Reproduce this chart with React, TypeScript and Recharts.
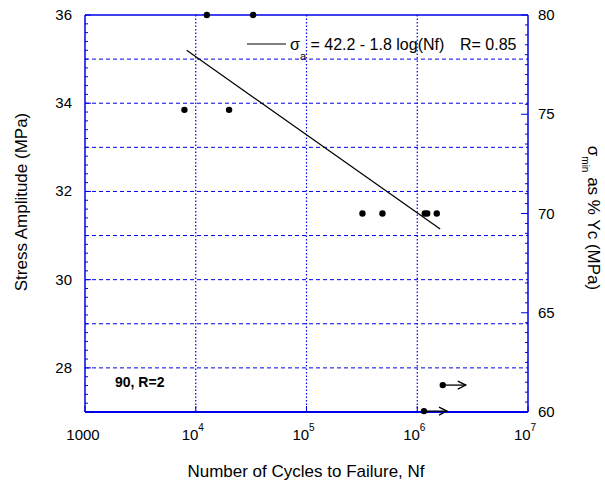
import React from 'react'
import { ScatterChart, Scatter, XAxis, YAxis, ReferenceLine, Customized } from 'recharts'

// ── Data ───────────────────────────────────────────────────────

const cycles = [1.26e4, 3.3e4, 7.9e3, 2.0e4, 3.2e5, 4.85e5, 1.17e6, 1.23e6, 1.5e6]
const amplitude = [36, 36, 33.85, 33.85, 31.5, 31.5, 31.5, 31.5, 31.5]
// same points read on the right scale (σmin as % Yc)
const minPercent = [80, 80, 75.2, 75.2, 70, 70, 70, 70, 70]

// run-outs (no failure), drawn with an arrow
const runoutCycles = [1.7e6, 1.15e6]
const runoutAmplitude = [27.61, 27.02]

// fitted line  σa = 42.2 - 1.8 log(Nf)
const fitCycles = [8.28e3, 1.61e6]
const fitAmplitude = [35.2, 31.15]

const xTicks = [1e3, 1e4, 1e5, 1e6, 1e7]
const xGrid = [1e4, 1e5, 1e6]
const leftLabels = [28, 30, 32, 34, 36]
const rightLabels = [60, 65, 70, 75, 80]
const yGrid = [28, 29, 30, 31, 32, 33, 34, 35]

const leftTicks = Array.from({ length: 46 }, (_, i) => Math.round((27 + i * 0.2) * 10) / 10)
const rightTicks = Array.from({ length: 41 }, (_, i) => 60 + i * 0.5)

const points = cycles.map((n, i) => ({ n, s: amplitude[i] }))
const pointsRight = cycles.map((n, i) => ({ n, p: minPercent[i] }))
const runouts = runoutCycles.map((n, i) => ({ n, s: runoutAmplitude[i] }))
const fit = fitCycles.map((n, i) => ({ n, s: fitAmplitude[i] }))

// ── Styles ─────────────────────────────────────────────────────

const BLUE = '#0000e6'
const FONT = '"Liberation Sans", Arial, sans-serif'

// ── Ticks ──────────────────────────────────────────────────────

function XTick({ x, y, payload }: any) {
  const v = payload.value as number
  const exp = Math.round(Math.log10(v))
  return (
    <g>
      <line x1={x} y1={y} x2={x} y2={y - 6} stroke={BLUE} />
      {v === 1000 ? (
        <text x={x - 2} y={y + 28} textAnchor="middle" fontSize={15} fill="#000">1000</text>
      ) : (
        <text x={x - 3} y={y + 28} textAnchor="middle" fontSize={15} fill="#000">
          10<tspan fontSize={10} dy={-9}>{exp}</tspan>
        </text>
      )}
    </g>
  )
}

function LeftTick({ x, y, payload }: any) {
  const v = payload.value as number
  const major = leftLabels.includes(v)
  return (
    <g>
      <line x1={x} y1={y} x2={x + (major ? 6 : 3)} y2={y} stroke={BLUE} />
      {major && (
        <text x={x - 13} y={y} dy={5} textAnchor="end" fontSize={15} fill="#000">{v}</text>
      )}
    </g>
  )
}

function RightTick({ x, y, payload }: any) {
  const v = payload.value as number
  const major = rightLabels.includes(v)
  return (
    <g>
      <line x1={x} y1={y} x2={x - (major ? 7 : 3)} y2={y} stroke={BLUE} />
      {major && (
        <text x={x + 10} y={y} dy={5} textAnchor="start" fontSize={15} fill="#000">{v}</text>
      )}
    </g>
  )
}

// ── Marks ──────────────────────────────────────────────────────

function Dot({ cx, cy }: any) {
  return <circle cx={cx} cy={cy} r={3.2} fill="#000" />
}

function RunoutDot({ cx, cy }: any) {
  return (
    <g>
      <circle cx={cx} cy={cy} r={3.2} fill="#000" />
      <line x1={cx} y1={cy} x2={cx + 23} y2={cy} stroke="#000" strokeWidth={1.3} />
      <polyline
        points={`${cx + 15},${cy - 4} ${cx + 23},${cy} ${cx + 15},${cy + 4}`}
        fill="none"
        stroke="#000"
        strokeWidth={1.3}
      />
    </g>
  )
}

function NoDot() {
  return <g />
}

// ── Titles & legend ────────────────────────────────────────────

function Overlay() {
  return (
    <g fontFamily={FONT} fill="#000">
      <text transform="translate(27,202) rotate(-90)" textAnchor="middle" fontSize={17}>
        Stress Amplitude (MPa)
      </text>
      <text transform="translate(588,218) rotate(90)" textAnchor="middle" fontSize={17}>
        σ<tspan fontSize={10} dy={6}>min</tspan>
        <tspan dy={-6}> as % Yc (MPa)</tspan>
      </text>
      <text x={306} y={477} textAnchor="middle" fontSize={17}>
        Number of Cycles to Failure, Nf
      </text>

      <line x1={247} y1={44} x2={286} y2={44} stroke="#000" strokeWidth={1} />
      <text x={290} y={50} fontSize={16}>
        σ<tspan fontSize={11} dy={10}>a</tspan>
        <tspan dy={-10}> = 42.2 - 1.8 log(Nf)</tspan>
      </text>
      <text x={460} y={50} fontSize={16}>R= 0.85</text>

      <text x={115} y={387} fontSize={14} fontWeight="bold">90, R=2</text>
    </g>
  )
}

// ── Chart ──────────────────────────────────────────────────────

export default function App() {
  return (
    <div style={{ position: 'absolute', left: 0, top: 0, background: '#fff' }}>
      <ScatterChart
        width={605}
        height={486}
        margin={{ top: 15, right: 27, bottom: 34, left: 25 }}
        style={{ fontFamily: FONT }}
      >
        <XAxis
          dataKey="n"
          type="number"
          scale="log"
          domain={[1e3, 1e7]}
          ticks={xTicks}
          interval={0}
          height={40}
          tickSize={0}
          tickMargin={0}
          tickLine={false}
          tick={<XTick />}
          axisLine={{ stroke: BLUE, strokeWidth: 2 }}
        />
        <YAxis
          yAxisId="left"
          dataKey="s"
          type="number"
          domain={[27, 36]}
          ticks={leftTicks}
          interval={0}
          width={60}
          tickSize={0}
          tickMargin={0}
          tickLine={false}
          tick={<LeftTick />}
          axisLine={{ stroke: BLUE, strokeWidth: 1.5 }}
        />
        <YAxis
          yAxisId="right"
          orientation="right"
          dataKey="p"
          type="number"
          domain={[60, 80]}
          allowDataOverflow
          ticks={rightTicks}
          interval={0}
          width={50}
          tickSize={0}
          tickMargin={0}
          tickLine={false}
          tick={<RightTick />}
          axisLine={{ stroke: BLUE, strokeWidth: 1.5 }}
        />

        {yGrid.map((v) => (
          <ReferenceLine key={`h${v}`} yAxisId="left" y={v} stroke={BLUE} strokeDasharray="4 3" />
        ))}
        {xGrid.map((v) => (
          <ReferenceLine key={`v${v}`} yAxisId="left" x={v} stroke={BLUE} strokeWidth={1.2} strokeDasharray="1.5 2" />
        ))}
        <ReferenceLine yAxisId="left" y={36} stroke={BLUE} strokeWidth={1.5} />

        {/* hidden copy on the right scale so that axis gets its domain */}
        <Scatter yAxisId="right" data={pointsRight} shape={<NoDot />} isAnimationActive={false} />

        <Scatter
          yAxisId="left"
          data={fit}
          line={{ stroke: '#000', strokeWidth: 1.2 }}
          shape={<NoDot />}
          isAnimationActive={false}
        />
        <Scatter yAxisId="left" data={points} shape={<Dot />} isAnimationActive={false} />
        <Scatter yAxisId="left" data={runouts} shape={<RunoutDot />} isAnimationActive={false} />

        <Customized component={Overlay} />
      </ScatterChart>
    </div>
  )
}
